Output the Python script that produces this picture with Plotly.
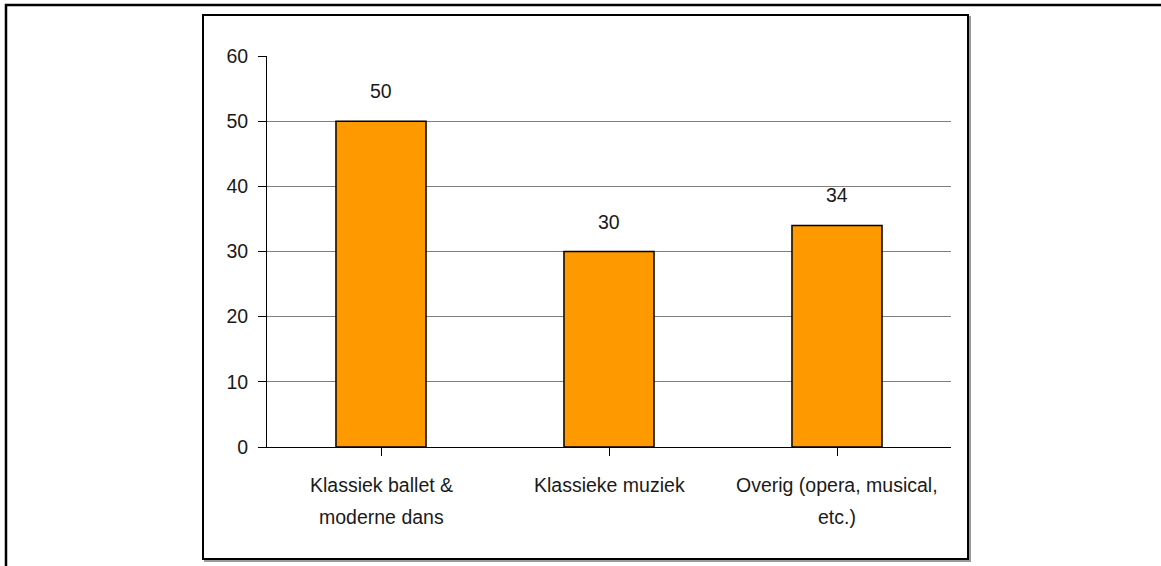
import plotly.graph_objects as go

# Chart data
categories = ["Klassiek ballet &<br>moderne dans", "Klassieke muziek", "Overig (opera, musical,<br>etc.)"]
values = [50, 30, 34]
y_ticks = [0, 10, 20, 30, 40, 50, 60]

W, H = 1161, 566
PLOT_L, PLOT_R, PLOT_T, PLOT_B = 267, 951, 56, 447
FONT = "Liberation Sans, Arial, sans-serif"
FONT_SIZE = 19.5


def px_x(x):
    return (x - PLOT_L) / (PLOT_R - PLOT_L)


def px_y(y):
    return (PLOT_B - y) / (PLOT_B - PLOT_T)


fig = go.Figure()
fig.add_trace(go.Bar(
    x=list(range(len(categories))),
    y=values,
    width=0.395,
    marker=dict(color="#FF9900", line=dict(color="#000000", width=1.5)),
    hoverinfo="skip",
))

annotations = []
# value labels above bars
for i, v in enumerate(values):
    annotations.append(dict(
        x=i, y=v, xref="x", yref="y", text=str(v), showarrow=False,
        yanchor="middle", yshift=30, font=dict(family=FONT, size=FONT_SIZE, color="#1a1a1a"),
    ))
# category labels, one annotation per line
for i, c in enumerate(categories):
    for j, line in enumerate(c.split("<br>")):
        annotations.append(dict(
            x=i, y=0, xref="x", yref="paper", text=line, showarrow=False,
            yanchor="middle", yshift=-38 - 32 * j,
            font=dict(family=FONT, size=FONT_SIZE, color="#1a1a1a"),
        ))

shapes = [
    # outer frame
    dict(type="rect", xref="paper", yref="paper",
         x0=px_x(6), x1=px_x(1175), y0=px_y(580), y1=px_y(5),
         line=dict(color="#000000", width=2.5), fillcolor="rgba(0,0,0,0)", layer="below"),
    # chart frame shadow
    dict(type="rect", xref="paper", yref="paper",
         x0=px_x(205), x1=px_x(970), y0=px_y(561), y1=px_y(17),
         line=dict(color="#9a9a9a", width=2), fillcolor="rgba(0,0,0,0)", layer="below"),
    # chart frame
    dict(type="rect", xref="paper", yref="paper",
         x0=px_x(203), x1=px_x(968), y0=px_y(559), y1=px_y(15),
         line=dict(color="#000000", width=2), fillcolor="#ffffff", layer="below"),
]

fig.update_layout(
    width=W, height=H,
    margin=dict(l=PLOT_L, r=W - PLOT_R, t=PLOT_T, b=H - PLOT_B, pad=0),
    paper_bgcolor="#ffffff", plot_bgcolor="rgba(0,0,0,0)",
    showlegend=False,
    font=dict(family=FONT, size=FONT_SIZE, color="#1a1a1a"),
    annotations=annotations,
    shapes=shapes,
    xaxis=dict(
        range=[-0.5, len(categories) - 0.5],
        tickmode="array", tickvals=list(range(len(categories))),
        ticktext=["" for _ in categories], showticklabels=False,
        tickson="boundaries", ticks="outside", ticklen=8, tickcolor="#000000", tickwidth=1,
        showline=True, linecolor="#000000", linewidth=1,
        showgrid=False, zeroline=False, fixedrange=True,
    ),
    yaxis=dict(
        range=[0, 60],
        tickmode="array", tickvals=y_ticks, ticktext=[str(t) for t in y_ticks],
        ticks="outside", ticklen=8, tickcolor="#000000", tickwidth=1,
        ticklabelstandoff=6,
        showline=True, linecolor="#000000", linewidth=1,
        showgrid=True, gridcolor="#808080", gridwidth=1,
        zeroline=False, fixedrange=True,
        tickfont=dict(family=FONT, size=FONT_SIZE, color="#1a1a1a"),
    ),
)

fig.write_html("out.html")
